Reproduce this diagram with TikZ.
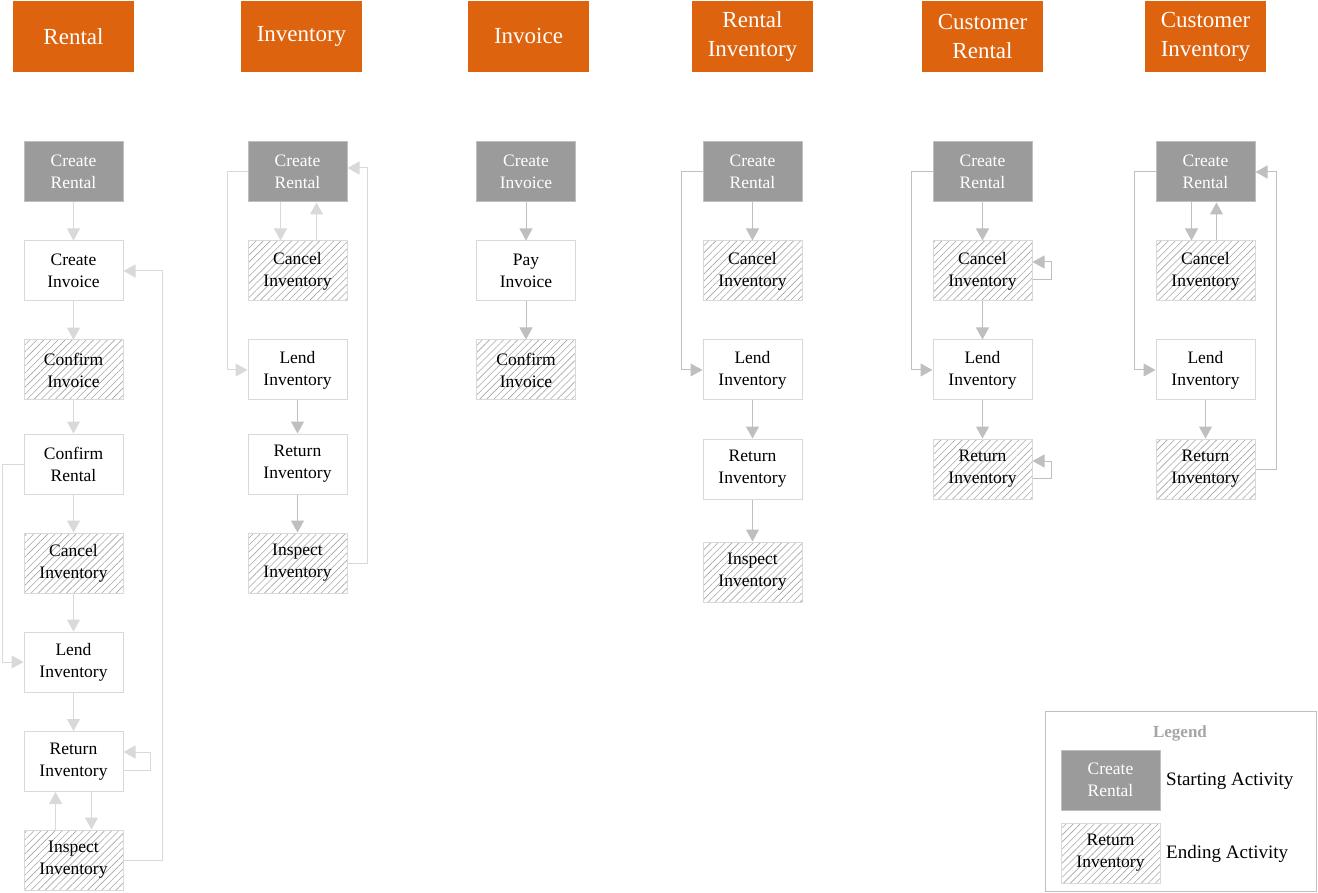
\documentclass[tikz,border=0pt]{standalone}
\usepackage{fontspec}
\setmainfont{Liberation Serif}
\usetikzlibrary{arrows.meta,patterns.meta}
\definecolor{MyOrange}{RGB}{222,99,14}
\definecolor{MyGray}{RGB}{155,155,155}
\definecolor{MyLine}{RGB}{191,191,191}
\definecolor{MyLight}{RGB}{217,217,217}
\definecolor{MyHatch}{RGB}{165,165,165}
\newcommand{\lw}{1pt}

\begin{document}
\begin{tikzpicture}[x=1pt,y=-1pt,
  every node/.append style={align=center,inner sep=0pt},
  head/.style={fill=MyOrange,text=white,minimum width=121pt,minimum height=71pt,font=\fontsize{23}{29}\selectfont},
  act/.style={draw=MyLight,line width=\lw,minimum width=99pt,minimum height=60pt,font=\fontsize{17.5}{22}\selectfont},
  start/.style={act,fill=MyGray,draw=MyLine,text=white},
  finish/.style={act,pattern={Lines[angle=45,distance=5pt,line width=0.6pt]},pattern color=MyHatch},
  flow/.style={draw=MyLine,line width=\lw,-{Triangle[width=13pt,length=12pt]}},
  flowlt/.style={flow,draw=MyLight}]
  \useasboundingbox (0,0) rectangle (1318,893);

  \node[head] (ha) at (73.5,36.5)  {Rental};
  \node[head] (hb) at (301.5,36.5) {Inventory};
  \node[head] (hc) at (528.5,36.5) {Invoice};
  \node[head] (hd) at (752.5,36.5) {Rental\\Inventory};
  \node[head] (he) at (982.5,36.5) {Customer\\Rental};
  \node[head] (hf) at (1205.5,36.5) {Customer\\Inventory};

  \node[start]  (a1) at (73.5,172) {Create\\Rental};
  \node[act]    (a2) at (73.5,271) {Create\\Invoice};
  \node[finish] (a3) at (73.5,370) {Confirm\\Invoice};
  \node[act]    (a4) at (73.5,464) {Confirm\\Rental};
  \node[finish] (a5) at (73.5,563) {Cancel\\Inventory};
  \node[act]    (a6) at (73.5,662) {Lend\\Inventory};
  \node[act]    (a7) at (73.5,761.5) {Return\\Inventory};
  \node[finish] (a8) at (73.5,860) {Inspect\\Inventory};

  \node[start]  (b1) at (297.5,172) {Create\\Rental};
  \node[finish] (b2) at (297.5,271) {Cancel\\Inventory};
  \node[act]    (b3) at (297.5,370) {Lend\\Inventory};
  \node[act]    (b4) at (297.5,464) {Return\\Inventory};
  \node[finish] (b5) at (297.5,563) {Inspect\\Inventory};

  \node[start]  (c1) at (526,172) {Create\\Invoice};
  \node[act]    (c2) at (526,271) {Pay\\Invoice};
  \node[finish] (c3) at (526,370) {Confirm\\Invoice};

  \node[start]  (d1) at (752.5,172) {Create\\Rental};
  \node[finish] (d2) at (752.5,271) {Cancel\\Inventory};
  \node[act]    (d3) at (752.5,370) {Lend\\Inventory};
  \node[act]    (d4) at (752.5,469) {Return\\Inventory};
  \node[finish] (d5) at (752.5,572) {Inspect\\Inventory};

  \node[start]  (e1) at (982.5,172) {Create\\Rental};
  \node[finish] (e2) at (982.5,271) {Cancel\\Inventory};
  \node[act]    (e3) at (982.5,370) {Lend\\Inventory};
  \node[finish] (e4) at (982.5,469) {Return\\Inventory};

  \node[start]  (f1) at (1205.5,172) {Create\\Rental};
  \node[finish] (f2) at (1205.5,271) {Cancel\\Inventory};
  \node[act]    (f3) at (1205.5,370) {Lend\\Inventory};
  \node[finish] (f4) at (1205.5,469) {Return\\Inventory};

  \draw[flowlt] (a1) -- (a2);
  \draw[flowlt] (a2) -- (a3);
  \draw[flowlt] (a3) -- (a4);
  \draw[flowlt] (a4) -- (a5);
  \draw[flowlt] (a5) -- (a6);
  \draw[flowlt] (a6) -- (a7);
  \draw[flowlt] (a4.west) -- ++(-21,0) |- (a6.west);
  \draw[flowlt] ([yshift=-8.5pt]a7.east) -- ++(27,0) |- ([yshift=9.5pt]a7.east);
  \draw[flowlt] ([xshift=18pt]a7.south) -- ([xshift=18pt]a8.north);
  \draw[flowlt] ([xshift=-18pt]a8.north) -- ([xshift=-18pt]a7.south);
  \draw[flowlt] (a8.east) -- ++(39,0) |- (a2.east);

  \draw[flowlt] ([xshift=-17pt]b1.south) -- ([xshift=-17pt]b2.north);
  \draw[flowlt] ([xshift=19pt]b2.north) -- ([xshift=19pt]b1.south);
  \draw[flowlt] (b1.west) -- ++(-20,0) |- (b3.west);
  \draw[flow] (b3) -- (b4);
  \draw[flow] (b4) -- (b5);
  \draw[flowlt] (b5.east) -- ++(20,0) |- ([yshift=4pt]b1.east);

  \draw[flow] (c1) -- (c2);
  \draw[flow] (c2) -- (c3);

  \draw[flow] (d1) -- (d2);
  \draw[flow] (d1.west) -- ++(-21,0) |- (d3.west);
  \draw[flow] (d3) -- (d4);
  \draw[flow] (d4) -- (d5);

  \draw[flow] (e1) -- (e2);
  \draw[flow] ([yshift=-9pt]e2.east) -- ++(19,0) |- ([yshift=9pt]e2.east);
  \draw[flow] (e2) -- (e3);
  \draw[flow] (e1.west) -- ++(-21,0) |- (e3.west);
  \draw[flow] (e3) -- (e4);
  \draw[flow] ([yshift=-9pt]e4.east) -- ++(19,0) |- ([yshift=8pt]e4.east);

  \draw[flow] ([xshift=-14pt]f1.south) -- ([xshift=-14pt]f2.north);
  \draw[flow] ([xshift=11pt]f2.north) -- ([xshift=11pt]f1.south);
  \draw[flow] (f1.west) -- ++(-21,0) |- (f3.west);
  \draw[flow] (f3) -- (f4);
  \draw[flow] (f4.east) -- ++(21,0) |- (f1.east);

  \node[draw=MyLine,line width=\lw,minimum width=271pt,minimum height=180pt] (lg) at (1180.5,801) {};
  \node[text=MyHatch,font=\bfseries\fontsize{17}{20}\selectfont] (lgt) at (1180,733) {Legend};
  \node[start]  (ls) at (1110.5,780) {Create\\Rental};
  \node[finish] (le) at (1110.5,853) {Return\\Inventory};
  \node[anchor=west,font=\fontsize{19}{23}\selectfont] (lst) at (1166,781) {Starting Activity};
  \node[anchor=west,font=\fontsize{19}{23}\selectfont] (let) at (1166,854) {Ending Activity};
\end{tikzpicture}
\end{document}
